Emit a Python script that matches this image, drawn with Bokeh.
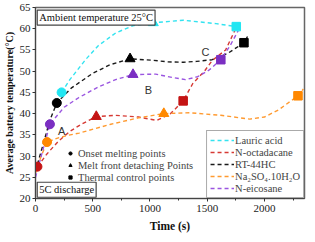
from bokeh.plotting import figure
from bokeh.models import Legend, LegendItem, Label, SingleIntervalTicker, Range1d
from bokeh.embed import file_html
from bokeh.resources import INLINE

# ---- data ----
series = ["Lauric acid", "N-octadacane", "RT-44HC", "Na\u2082SO\u2084.10H\u2082O", "N-eicosane"]
line_colors = ["#33e3f0", "#d63a34", "#1a1a1a", "#ff9a30", "#9a55e0"]
marker_colors = ["#22e6f2", "#c41414", "#000000", "#ff8800", "#7b2fc2"]

# onset melting points (circles)
onset_t = [228, 17, 186, 101, 126]
onset_T = [45.0, 27.5, 42.5, 33.3, 37.5]
# melt front detaching points (triangles)
detach_t = [1029, 531, 826, 1121, 852]
detach_T = [61.4, 39.3, 52.9, 40.0, 49.2]
# thermal control points (squares)
control_t = [1754, 1290, 1821, 2293, 1619]
control_T = [60.5, 43.0, 56.7, 44.2, 52.7]

# dashed fitted curves
lauric_t = [228, 300, 440, 548, 700, 850, 1029, 1290, 1577, 1754]
lauric_T = [45.0, 48.0, 52.8, 56.0, 59.0, 60.7, 61.4, 62.0, 61.2, 60.5]
octa_t = [17, 100, 200, 300, 400, 531, 700, 900, 1060, 1180, 1290, 1374, 1476, 1543, 1661, 1740]
octa_T = [27.5, 30.5, 33.5, 35.8, 37.5, 39.3, 39.6, 39.2, 38.4, 40.0, 43.0, 47.1, 50.0, 52.5, 55.0, 59.5]
rt_t = [0, 80, 126, 186, 312, 500, 650, 826, 1012, 1150, 1290, 1408, 1543, 1686, 1821, 1855]
rt_T = [26.5, 34.0, 38.5, 42.5, 46.0, 49.5, 51.5, 52.9, 52.6, 52.2, 52.1, 52.3, 52.7, 54.3, 56.7, 58.3]
na_t = [0, 50, 101, 200, 270, 380, 658, 900, 1121, 1350, 1619, 1872, 2000, 2125, 2293, 2340]
na_T = [26.0, 30.0, 33.3, 34.3, 34.8, 35.4, 37.5, 39.0, 40.0, 40.2, 39.6, 38.7, 39.2, 40.9, 44.2, 45.8]
eico_t = [0, 60, 126, 250, 380, 550, 700, 852, 1050, 1200, 1310, 1417, 1518, 1619, 1700, 1770]
eico_T = [25.0, 31.0, 37.5, 41.5, 43.8, 46.3, 48.0, 49.2, 49.3, 48.5, 48.0, 48.7, 50.3, 52.7, 56.0, 59.5]

curves_t = [lauric_t, octa_t, rt_t, na_t, eico_t]
curves_T = [lauric_T, octa_T, rt_T, na_T, eico_T]

x_ticks = [0, 500, 1000, 1500, 2000]
y_ticks = [20, 25, 30, 35, 40, 45, 50, 55, 60, 65]

SERIF = "Liberation Serif"

p = figure(width=307, height=234, output_backend="svg", toolbar_location=None,
           x_range=Range1d(0, 2350), y_range=Range1d(20, 65),
           min_border_left=0, min_border_right=3, min_border_top=7, min_border_bottom=35)
p.grid.visible = False
p.background_fill_color = "white"
p.border_fill_color = "white"
p.outline_line_color = "#666666"
p.outline_line_width = 1.5

p.xaxis.ticker = SingleIntervalTicker(interval=500, num_minor_ticks=2)
p.yaxis.ticker = SingleIntervalTicker(interval=5, num_minor_ticks=0)
for ax in (p.xaxis[0], p.yaxis[0]):
    ax.major_label_text_font = SERIF
    ax.major_label_text_font_size = "11px"
    ax.major_label_text_color = "#222222"
    ax.axis_label_text_font = SERIF
    ax.axis_label_text_font_style = "bold"
    ax.axis_label_text_color = "#111111"
    ax.axis_line_color = "#444444"
    ax.major_tick_line_color = "#333333"
    ax.minor_tick_line_color = "#333333"
    ax.major_tick_in = 0
    ax.major_tick_out = 3
    ax.minor_tick_in = 0
    ax.minor_tick_out = 2
p.xaxis.axis_label_text_font_size = "11.5px"
p.xaxis.major_label_standoff = 3
p.xaxis.axis_label_standoff = 5
p.yaxis.axis_label_text_font_size = "10px"
p.yaxis.major_label_standoff = 2
p.yaxis.axis_label_standoff = 2
p.xaxis.axis_label = "Time (s)"
p.yaxis.axis_label = "Average battery temperature(\u00b0C)"

line_renderers = []
for t, T, c in zip(curves_t, curves_T, line_colors):
    r = p.line(t, T, line_color=c, line_width=1.4, line_dash="4 3")
    line_renderers.append(r)

for i in range(len(series)):
    p.scatter([onset_t[i]], [onset_T[i]], marker="circle", size=9,
              fill_color=marker_colors[i], line_color=marker_colors[i])
    p.scatter([detach_t[i]], [detach_T[i]], marker="triangle", size=10,
              fill_color=marker_colors[i], line_color=marker_colors[i])
    p.scatter([control_t[i]], [control_T[i]], marker="square", size=8.5,
              fill_color=marker_colors[i], line_color=marker_colors[i])

# marker-type legend (black symbols); NaN points only feed the legend
nan = float("nan")
m1 = p.scatter([nan], [nan], marker="circle", size=6, fill_color="black", line_color="black")
m2 = p.scatter([nan], [nan], marker="triangle", size=7, fill_color="black", line_color="black")
m3 = p.scatter([nan], [nan], marker="square", size=6, fill_color="black", line_color="black")
leg1 = Legend(items=[LegendItem(label="Onset melting points", renderers=[m1]),
                     LegendItem(label="Melt front detaching Points", renderers=[m2]),
                     LegendItem(label="Thermal control points", renderers=[m3])],
              location=(31, 15), border_line_alpha=0, background_fill_alpha=0,
              label_text_font=SERIF, label_text_font_size="10.5px",
              glyph_width=8, glyph_height=12, label_height=12, spacing=0,
              padding=0, margin=0, label_standoff=4)
p.add_layout(leg1)

leg2 = Legend(items=[LegendItem(label=s, renderers=[r]) for s, r in zip(series, line_renderers)],
              location="bottom_right", border_line_color="#555555", border_line_width=1.2,
              background_fill_color="white", background_fill_alpha=1,
              label_text_font=SERIF, label_text_font_size="10.5px",
              glyph_width=24, glyph_height=12, label_height=12, spacing=0,
              padding=3, margin=0, label_standoff=1)
p.add_layout(leg2)

p.add_layout(Label(x=15, y=64.4, text="Ambient temperature 25\u00b0C", text_baseline="top",
                   text_font=SERIF, text_font_size="10.5px", text_color="#111111",
                   border_line_color="#444444", border_line_width=1.2,
                   background_fill_color="white", padding=2))
p.add_layout(Label(x=15, y=20.3, text="5C discharge", text_baseline="bottom",
                   text_font=SERIF, text_font_size="10.5px", text_color="#111111",
                   border_line_color="#444444", border_line_width=1.2,
                   background_fill_color="white", padding=2))

for txt, x, y in [("A", 228, 35.8), ("B", 987, 45.6), ("C", 1484, 54.5)]:
    p.add_layout(Label(x=x, y=y, text=txt, text_align="center", text_baseline="middle",
                       text_font="Liberation Sans", text_font_size="11px", text_color="#333333"))

open("out.html", "w").write(file_html(p, INLINE))
